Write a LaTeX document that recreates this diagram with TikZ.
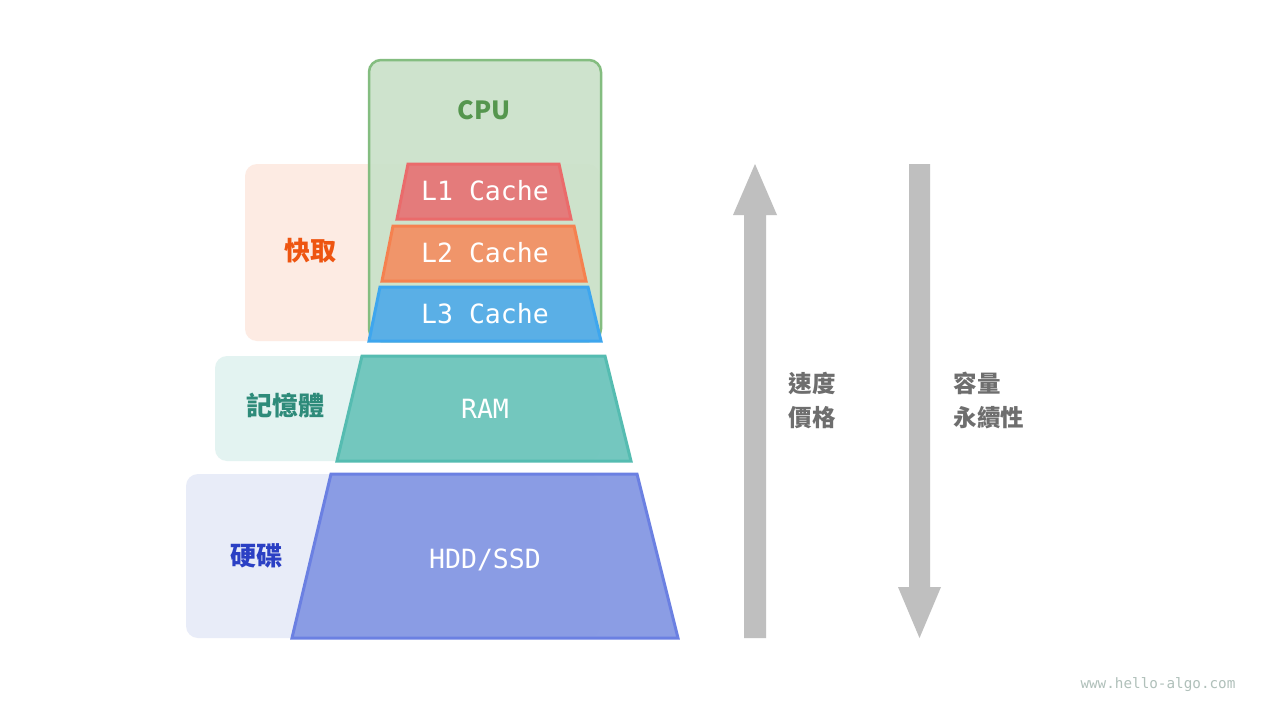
\documentclass[tikz,border=0pt]{standalone}
\usepackage{fontspec}
\newfontfamily\cjk{Noto Sans CJK TC}
\newfontfamily\mono{DejaVu Sans Mono}
\definecolor{cpufill}{HTML}{CBE2CA}
\definecolor{cpuline}{HTML}{84BD80}
\definecolor{cputext}{HTML}{55964E}
\definecolor{cachebg}{HTML}{FDEBE3}
\definecolor{cachetext}{HTML}{EE5511}
\definecolor{ramebg}{HTML}{E3F3F1}
\definecolor{ramtext}{HTML}{2E8B7A}
\definecolor{diskbg}{HTML}{E8ECF8}
\definecolor{disktext}{HTML}{2B40C4}
\definecolor{lonefill}{HTML}{E47B7B}
\definecolor{loneline}{HTML}{EA6B6B}
\definecolor{ltwofill}{HTML}{F0956A}
\definecolor{ltwoline}{HTML}{F5814F}
\definecolor{lthreefill}{HTML}{5AAFE6}
\definecolor{lthreeline}{HTML}{3EA6EE}
\definecolor{ramfill}{HTML}{70C6BD}
\definecolor{ramline}{HTML}{55BCB1}
\definecolor{diskfill}{HTML}{8598E3}
\definecolor{diskline}{HTML}{6B80E2}
\definecolor{arrowgray}{HTML}{BFBFBF}
\definecolor{sidetext}{HTML}{6E6E6E}
\definecolor{wmtext}{HTML}{B0C0BA}
\begin{document}
\begin{tikzpicture}[x=1pt,y=-1pt,
  bgbox/.style={rounded corners=12pt},
  layer/.style={line width=3pt,line join=miter},
  layertext/.style={text=white,font=\mono\fontsize{26.5}{30}\selectfont},
  grouplabel/.style={font=\cjk\bfseries\fontsize{26}{30}\selectfont},
  sidelabel/.style={font=\cjk\bfseries\fontsize{23.5}{34}\selectfont,text=sidetext,align=left,anchor=west}]
\useasboundingbox (0,0) rectangle (1280,720);
\fill[white] (0,0) rectangle (1280,720);
% background group boxes
\fill[bgbox,cachebg] (245,164) rectangle (600,341);
\fill[bgbox,ramebg] (215,356) rectangle (600,461);
\fill[bgbox,diskbg] (186,474) rectangle (600,638);
% CPU box
\filldraw[bgbox,fill=cpufill,fill opacity=0.94,draw=cpuline,line width=2.5pt] (369,60) rectangle (601,341);
\node[font=\cjk\bfseries\fontsize{25}{28}\selectfont,text=cputext] (cpu) at (484,110) {CPU};
% layers
\filldraw[layer,fill=lonefill,draw=loneline] (408,164) -- (559,164) -- (571,219) -- (397,219) -- cycle;
\node[layertext] (l1) at (485,191) {L1 Cache};
\filldraw[layer,fill=ltwofill,draw=ltwoline] (393,226) -- (574,226) -- (586,281) -- (382,281) -- cycle;
\node[layertext] (l2) at (485,253) {L2 Cache};
\filldraw[layer,fill=lthreefill,draw=lthreeline] (380,287) -- (588,287) -- (601,341) -- (369,341) -- cycle;
\node[layertext] (l3) at (485,314) {L3 Cache};
\filldraw[layer,fill=ramfill,draw=ramline,fill opacity=0.97] (362,356) -- (605,356) -- (631,461) -- (337,461) -- cycle;
\node[layertext] (ram) at (485,409) {RAM};
\filldraw[layer,fill=diskfill,draw=diskline,fill opacity=0.95] (331,474) -- (637,474) -- (678,638) -- (292,638) -- cycle;
\node[layertext] (disk) at (485,560) {HDD/SSD};
% group labels
\node[grouplabel,text=cachetext] (cachelbl) at (310,251) {快取};
\node[grouplabel,text=ramtext] (ramlbl) at (285,406) {記憶體};
\node[grouplabel,text=disktext] (disklbl) at (256,556) {硬碟};
% arrows
\fill[arrowgray] (744,638) -- (766,638) -- (766,215) -- (777,215) -- (755,164) -- (733,215) -- (744,215) -- cycle;
\fill[arrowgray] (909,164) -- (930,164) -- (930,587) -- (941,587) -- (919.5,638) -- (898,587) -- (909,587) -- cycle;
\node[sidelabel] (speed) at (785,400) {速度\\價格};
\node[sidelabel] (cap) at (950,400) {容量\\永續性};
% watermark
\node[font=\mono\fontsize{14.3}{16}\selectfont,text=wmtext,anchor=east] (wm) at (1239,685) {www.hello-algo.com};
\end{tikzpicture}
\end{document}
